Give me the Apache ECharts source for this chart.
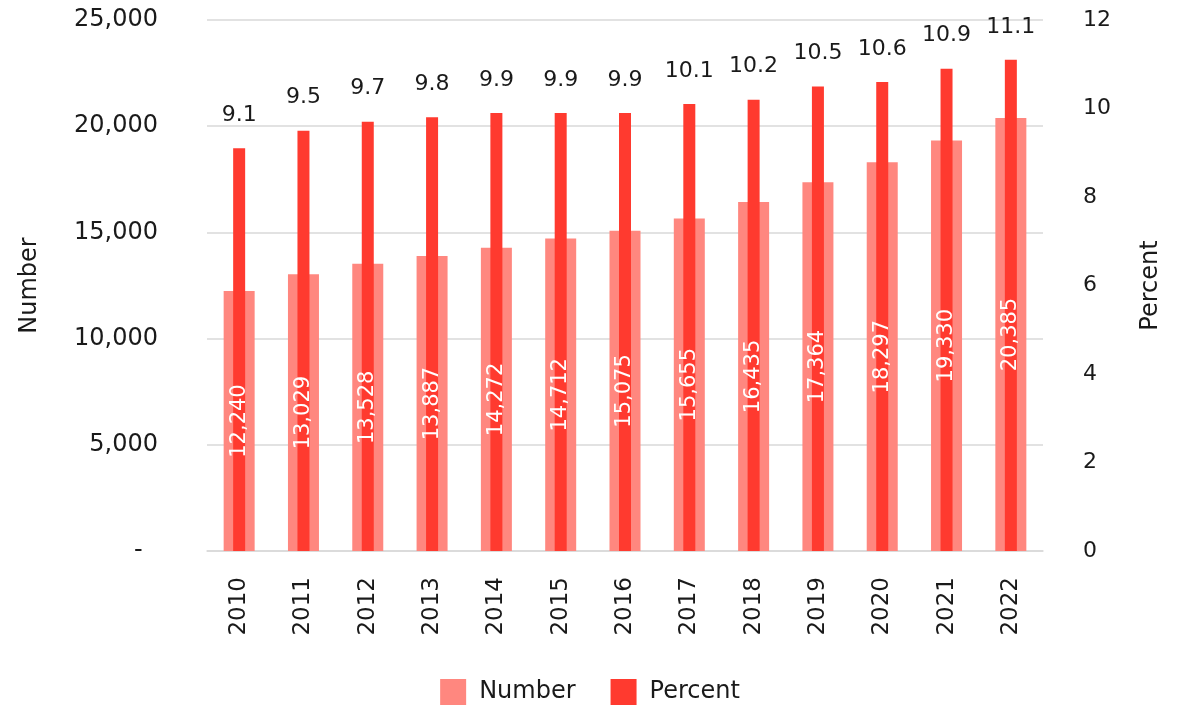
<!DOCTYPE html>
<html>
<head>
<meta charset="utf-8">
<script src="https://cdn.jsdelivr.net/npm/echarts@6/dist/echarts.min.js"></script>
<style>
  html, body { margin: 0; padding: 0; background: #fff; }
  #main { width: 1180px; height: 709px; }
</style>
</head>
<body>
<div id="main"></div>
<script>
// data
const years = ['2010', '2011', '2012', '2013', '2014', '2015', '2016', '2017', '2018', '2019', '2020', '2021', '2022']
const numberValues = [12240, 13029, 13528, 13887, 14272, 14712, 15075, 15655, 16435, 17364, 18297, 19330, 20385]
const percentValues = [9.1, 9.5, 9.7, 9.8, 9.9, 9.9, 9.9, 10.1, 10.2, 10.5, 10.6, 10.9, 11.1]

const font = 'DejaVu Sans'
const fmtNum = v => v === 0 ? '-  ' : v.toLocaleString('en-US')

const chart = echarts.init(document.getElementById('main'))

const option = {
    animation: false,
    textStyle: { fontFamily: font },
    grid: {
        left: 207,
        right: 137,
        top: 20,
        bottom: 158
    },
    legend: {
        bottom: -1,
        left: 'center',
        itemWidth: 26,
        itemHeight: 26,
        itemGap: 35,
        icon: 'rect',
        textStyle: { fontFamily: font, fontSize: 24, color: '#1a1a1a', padding: [0, 0, 0, 8] },
        data: ['Number', 'Percent']
    },
    xAxis: [{
        type: 'category',
        data: years,
        axisTick: { show: false },
        axisLine: { lineStyle: { color: '#d9d9d9', width: 1.5 } },
        axisLabel: {
            rotate: 90,
            margin: 26,
            fontSize: 23,
            color: '#1a1a1a',
            fontFamily: font
        }
    }, {
        // second (hidden) axis so both bar series centre on each year
        type: 'category',
        data: years,
        show: false
    }],
    yAxis: [{
        type: 'value',
        min: 0,
        max: 25000,
        interval: 5000,
        name: 'Number',
        nameLocation: 'middle',
        nameRotate: 90,
        nameGap: 165,
        nameTextStyle: { fontSize: 24, color: '#1a1a1a', fontFamily: font },
        axisLine: { show: false },
        axisTick: { show: false },
        splitLine: { lineStyle: { color: '#d9d9d9', width: 1.5 } },
        axisLabel: {
            margin: 49,
            fontSize: 24,
            color: '#1a1a1a',
            fontFamily: font,
            formatter: fmtNum
        }
    }, {
        type: 'value',
        min: 0,
        max: 12,
        interval: 2,
        name: 'Percent',
        nameLocation: 'middle',
        nameRotate: 90,
        nameGap: 96,
        nameTextStyle: { fontSize: 24, color: '#1a1a1a', fontFamily: font },
        axisLine: { show: false },
        axisTick: { show: false },
        splitLine: { show: false },
        axisLabel: {
            margin: 40,
            fontSize: 22,
            color: '#1a1a1a',
            fontFamily: font
        }
    }],
    series: [{
        name: 'Number',
        type: 'bar',
        xAxisIndex: 0,
        yAxisIndex: 0,
        barWidth: 31,
        itemStyle: { color: '#ff877f' },
        label: {
            show: true,
            position: 'inside',
            rotate: 90,
            fontSize: 21,
            color: '#fff',
            fontFamily: font,
            formatter: p => fmtNum(p.value)
        },
        data: numberValues
    }, {
        name: 'Percent',
        type: 'bar',
        xAxisIndex: 1,
        yAxisIndex: 1,
        barWidth: 12,
        itemStyle: { color: '#ff3a2f' },
        label: {
            show: true,
            position: 'top',
            distance: 22,
            fontSize: 22,
            color: '#1a1a1a',
            fontFamily: font,
            formatter: p => p.value.toFixed(1)
        },
        data: percentValues
    }]
}

chart.setOption(option)
</script>
</body>
</html>
